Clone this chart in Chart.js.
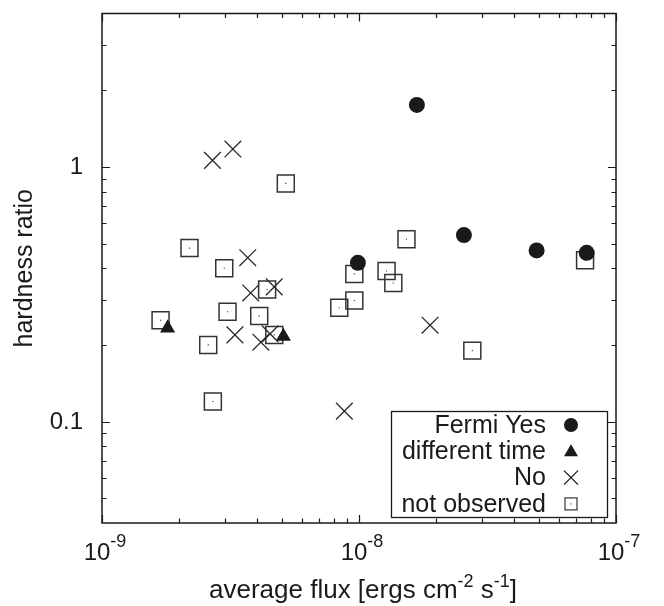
<!DOCTYPE html>
<html>
<head>
<meta charset="utf-8">
<script src="https://cdn.jsdelivr.net/npm/chart.js@4/dist/chart.umd.min.js"></script>
<style>
  html, body { margin: 0; padding: 0; background: #fff; }
  #wrap { width: 664px; height: 606px; }
</style>
</head>
<body>
<div id="wrap"><canvas id="chart" width="664" height="606"></canvas></div>
<script>
// values
const fermiYesFlux  = [9.9e-9, 1.68e-8, 2.56e-8, 4.91e-8, 7.69e-8];
const fermiYesRatio = [0.42, 1.75, 0.54, 0.47, 0.46];

const diffTimeFlux  = [1.80e-9, 5.08e-9];
const diffTimeRatio = [0.233, 0.216];

const noFlux  = [2.69e-9, 3.23e-9, 3.69e-9, 3.79e-9, 4.68e-9, 3.29e-9, 4.15e-9, 4.51e-9, 1.89e-8, 8.77e-9];
const noRatio = [1.06, 1.175, 0.44, 0.32, 0.338, 0.219, 0.205, 0.221, 0.239, 0.11];

const notObsFlux  = [5.19e-9, 2.19e-9, 2.99e-9, 4.39e-9, 3.08e-9, 4.09e-9, 1.69e-9, 4.68e-9, 2.59e-9,
                     2.70e-9, 9.59e-9, 1.53e-8, 1.28e-8, 1.36e-8, 9.59e-9, 8.38e-9, 2.76e-8, 7.58e-8];
const notObsRatio = [0.861, 0.48, 0.40, 0.33, 0.27, 0.26, 0.25, 0.219, 0.20,
                     0.12, 0.38, 0.52, 0.39, 0.35, 0.299, 0.28, 0.19, 0.43];

const legendLabels = ["Fermi Yes", "different time", "No", "not observed"];
const xMajorTicks = [1e-9, 1e-8, 1e-7];
const xTickExponents = ["-9", "-8", "-7"];
const yMajorTicks = [0.1, 1];
const yTickLabels = ["0.1", "1"];

const FONT = '"Liberation Sans", Arial, Helvetica, sans-serif';
const INK = '#1a1a1a';

function pts(xs, ys) {
    return xs.map((x, i) => ({ x: x, y: ys[i] }));
}

function minorValues(lo, hi) {
    const out = [];
    for (let e = Math.floor(Math.log10(lo)); e <= Math.ceil(Math.log10(hi)); e++) {
        for (let m = 2; m <= 9; m++) {
            const v = m * Math.pow(10, e);
            if (v > lo * 1.0001 && v < hi * 0.9999) out.push(v);
        }
    }
    return out;
}

// text with a raised part, e.g. 10^-9 ; parts = [[text, isSup], ...]
function drawRich(ctx, parts, cx, cy, size, supSize, rise) {
    let total = 0;
    parts.forEach(p => {
        ctx.font = (p[1] ? supSize : size) + 'px ' + FONT;
        total += ctx.measureText(p[0]).width;
    });
    let x = cx - total / 2;
    ctx.textAlign = 'left';
    ctx.textBaseline = 'middle';
    parts.forEach(p => {
        ctx.font = (p[1] ? supSize : size) + 'px ' + FONT;
        ctx.fillText(p[0], x, p[1] ? cy - rise : cy);
        x += ctx.measureText(p[0]).width;
    });
}

function legendSymbol(ctx, kind, x, y) {
    ctx.save();
    ctx.strokeStyle = INK;
    ctx.fillStyle = INK;
    ctx.lineWidth = 1.3;
    ctx.beginPath();
    if (kind === 0) {
        ctx.arc(x, y, 7, 0, Math.PI * 2);
        ctx.fill();
    } else if (kind === 1) {
        ctx.moveTo(x, y - 7);
        ctx.lineTo(x + 7, y + 5);
        ctx.lineTo(x - 7, y + 5);
        ctx.closePath();
        ctx.fill();
    } else if (kind === 2) {
        ctx.moveTo(x - 7, y - 7); ctx.lineTo(x + 7, y + 7);
        ctx.moveTo(x + 7, y - 7); ctx.lineTo(x - 7, y + 7);
        ctx.stroke();
    } else {
        ctx.strokeStyle = '#444';
        ctx.strokeRect(x - 6, y - 6, 12, 12);
        ctx.fillRect(x - 0.5, y - 0.5, 1, 1);
    }
    ctx.restore();
}

const framePlugin = {
    id: 'framePlugin',
    afterDraw(chart) {
        const ctx = chart.ctx;
        const xs = chart.scales.x, ys = chart.scales.y;
        const a = chart.chartArea;
        ctx.save();
        ctx.strokeStyle = INK;
        ctx.fillStyle = INK;
        ctx.lineWidth = 1.5;
        ctx.strokeRect(a.left, a.top, a.right - a.left, a.bottom - a.top);

        ctx.lineWidth = 1.2;
        ctx.beginPath();
        const xTick = (v, len) => {
            const px = Math.round(xs.getPixelForValue(v)) + 0.5;
            ctx.moveTo(px, a.bottom); ctx.lineTo(px, a.bottom - len);
            ctx.moveTo(px, a.top); ctx.lineTo(px, a.top + len);
        };
        const yTick = (v, len) => {
            const py = Math.round(ys.getPixelForValue(v)) + 0.5;
            ctx.moveTo(a.left, py); ctx.lineTo(a.left + len, py);
            ctx.moveTo(a.right, py); ctx.lineTo(a.right - len, py);
        };
        xMajorTicks.forEach(v => xTick(v, 8));
        minorValues(xs.min, xs.max).forEach(v => xTick(v, 4.5));
        yMajorTicks.forEach(v => yTick(v, 8));
        minorValues(ys.min, ys.max).forEach(v => yTick(v, 4.5));
        ctx.stroke();

        // y tick labels
        ctx.font = '24px ' + FONT;
        ctx.textAlign = 'right';
        ctx.textBaseline = 'middle';
        yMajorTicks.forEach((v, i) => {
            ctx.fillText(yTickLabels[i], a.left - 19, ys.getPixelForValue(v) + 1);
        });

        // x tick labels 10^n
        xMajorTicks.forEach((v, i) => {
            drawRich(ctx, [["10", false], [xTickExponents[i], true]],
                     xs.getPixelForValue(v) + 3, a.bottom + 30, 24, 18, 11);
        });

        // axis titles
        drawRich(ctx, [["average flux [ergs cm", false], ["-2", true], [" s", false], ["-1", true], ["]", false]],
                 (a.left + a.right) / 2 + 4, a.bottom + 68, 26, 18, 9);
        ctx.save();
        ctx.translate(25, (a.top + a.bottom) / 2);
        ctx.rotate(-Math.PI / 2);
        ctx.font = '25px ' + FONT;
        ctx.textAlign = 'center';
        ctx.textBaseline = 'middle';
        ctx.fillText('hardness ratio', 0, 0);
        ctx.restore();

        // legend box
        ctx.fillStyle = '#fff';
        ctx.fillRect(391, 411, 217, 107);
        ctx.strokeStyle = INK;
        ctx.lineWidth = 1.3;
        ctx.strokeRect(391.5, 411.5, 216, 106);
        ctx.fillStyle = INK;
        ctx.font = '25px ' + FONT;
        ctx.textAlign = 'right';
        ctx.textBaseline = 'middle';
        legendLabels.forEach((t, i) => {
            const yy = 425 + i * 26.3;
            ctx.fillText(t, 546, yy + 1);
            legendSymbol(ctx, i, 571, yy);
        });
        ctx.restore();
    }
};

const hiddenAxis = {
    type: 'logarithmic',
    grid: { display: false },
    border: { display: false },
    ticks: { display: false }
};

new Chart(document.getElementById('chart'), {
    type: 'scatter',
    data: {
        datasets: [
            {
                label: legendLabels[0],
                data: pts(fermiYesFlux, fermiYesRatio),
                pointStyle: 'circle',
                pointRadius: 8,
                backgroundColor: INK,
                borderColor: INK,
                borderWidth: 0
            },
            {
                label: legendLabels[1],
                data: pts(diffTimeFlux, diffTimeRatio),
                pointStyle: 'triangle',
                pointRadius: 8.7,
                backgroundColor: INK,
                borderColor: INK,
                borderWidth: 0
            },
            {
                label: legendLabels[2],
                data: pts(noFlux, noRatio),
                pointStyle: 'crossRot',
                pointRadius: 11.8,
                backgroundColor: 'rgba(0,0,0,0)',
                borderColor: '#2a2a2a',
                borderWidth: 1.3
            },
            {
                label: 'centre dots',
                data: pts(notObsFlux, notObsRatio),
                pointStyle: 'rect',
                pointRadius: 0.8,
                backgroundColor: '#333',
                borderWidth: 0
            },
            {
                label: legendLabels[3],
                data: pts(notObsFlux, notObsRatio),
                pointStyle: 'rect',
                pointRadius: 12,
                backgroundColor: 'rgba(0,0,0,0)',
                borderColor: '#333',
                borderWidth: 1.5
            }
        ]
    },
    options: {
        responsive: false,
        animation: false,
        devicePixelRatio: 1,
        layout: { padding: { top: 9, right: 48, left: 0, bottom: 0 } },
        plugins: {
            legend: { display: false },
            tooltip: { enabled: false }
        },
        scales: {
            x: Object.assign({}, hiddenAxis, {
                min: 1e-9, max: 1e-7,
                afterFit: s => { s.height = 83; }
            }),
            y: Object.assign({}, hiddenAxis, {
                min: 0.04, max: 4,
                afterFit: s => { s.width = 102; }
            })
        }
    },
    plugins: [framePlugin]
});
</script>
</body>
</html>
